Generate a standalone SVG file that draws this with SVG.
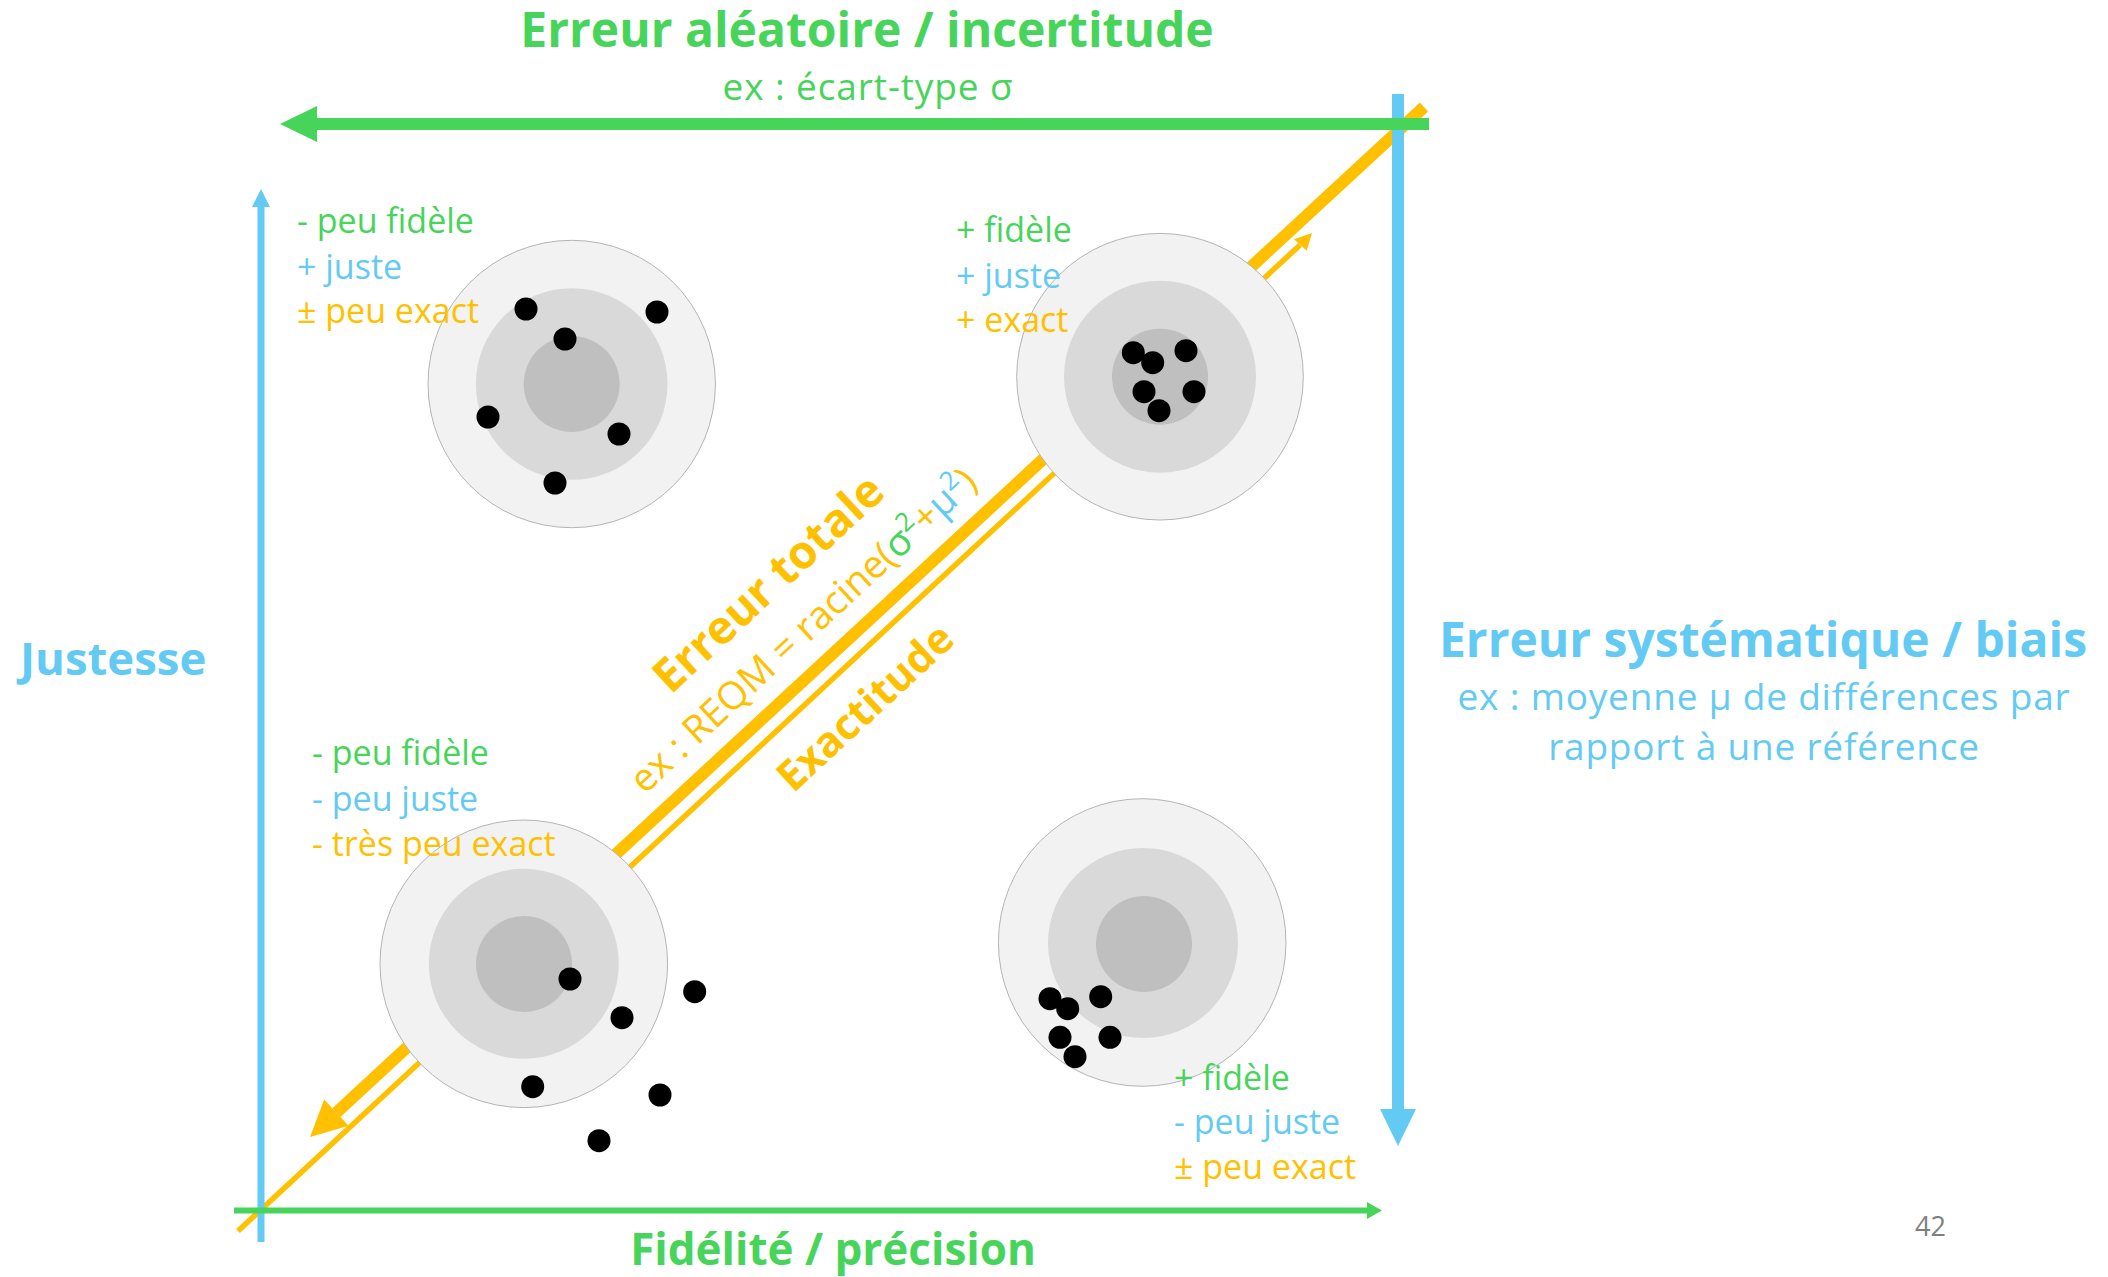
<svg xmlns="http://www.w3.org/2000/svg" width="2108" height="1277" viewBox="0 0 2108 1277">
<style>
text{font-family:"Open Sans","Liberation Sans",sans-serif}
.g{fill:#47D45A}.b{fill:#63CAF3}.y{fill:#FFC000}
.lbl{font-size:34px}
.h{font-weight:700}
.c1{fill:#F2F2F2;stroke:#B4B4B4;stroke-width:1}
.c2{fill:#D9D9D9}
.c3{fill:#BFBFBF}
.dot{fill:#000}
</style>
<rect width="2108" height="1277" fill="#fff"/>
<g id="connectors">
  <line x1="1424" y1="107" x2="336.4" y2="1112.6" stroke="#FFC000" stroke-width="12"/>
  <polygon points="310,1137 348.6,1125.8 324.2,1099.4" fill="#FFC000"/>
  <line x1="238" y1="1231" x2="1300" y2="245" stroke="#FFC000" stroke-width="5.5"/>
  <polygon points="1312,233 1306.7,250.7 1294,239.3" fill="#FFC000"/>
  <line x1="261" y1="1242" x2="261" y2="205" stroke="#63CAF3" stroke-width="7"/>
  <polygon points="261,189 270,207 252,207" fill="#63CAF3"/>
  <line x1="234" y1="1210.5" x2="1368" y2="1210.5" stroke="#47D45A" stroke-width="6"/>
  <polygon points="1382,1210.5 1367,1202 1367,1219" fill="#47D45A"/>
  <line x1="1398" y1="94" x2="1398" y2="1110" stroke="#63CAF3" stroke-width="12"/>
  <polygon points="1398,1146 1380,1109 1416,1109" fill="#63CAF3"/>
  <line x1="1429" y1="124" x2="315" y2="124" stroke="#47D45A" stroke-width="12"/>
  <polygon points="280,124 317,106 317,142" fill="#47D45A"/>
</g>
<g id="target-top-left">
  <circle class="c1" cx="571.7" cy="384" r="143.7"/>
  <circle class="c2" cx="571.7" cy="384" r="95.8"/>
  <circle class="c3" cx="571.7" cy="384" r="48"/>
  <circle class="dot" cx="526" cy="309" r="11.5"/>
  <circle class="dot" cx="657" cy="312" r="11.5"/>
  <circle class="dot" cx="565" cy="339" r="11.5"/>
  <circle class="dot" cx="488" cy="417" r="11.5"/>
  <circle class="dot" cx="619" cy="434" r="11.5"/>
  <circle class="dot" cx="555" cy="483" r="11.5"/>
</g>
<g id="target-top-right">
  <circle class="c1" cx="1160" cy="376.7" r="143.3"/>
  <circle class="c2" cx="1160" cy="376.7" r="96"/>
  <circle class="c3" cx="1160" cy="376.7" r="48"/>
  <circle class="dot" cx="1133.3" cy="352.7" r="11.5"/>
  <circle class="dot" cx="1152.7" cy="362.7" r="11.5"/>
  <circle class="dot" cx="1186" cy="350.7" r="11.5"/>
  <circle class="dot" cx="1144" cy="391.7" r="11.5"/>
  <circle class="dot" cx="1194" cy="391.7" r="11.5"/>
  <circle class="dot" cx="1159" cy="410.7" r="11.5"/>
</g>
<g id="target-bottom-left">
  <circle class="c1" cx="523.8" cy="963.8" r="143.8"/>
  <circle class="c2" cx="523.8" cy="963.8" r="95"/>
  <circle class="c3" cx="524" cy="964" r="48"/>
  <circle class="dot" cx="570" cy="979" r="11.5"/>
  <circle class="dot" cx="622" cy="1017.7" r="11.5"/>
  <circle class="dot" cx="694.7" cy="991.7" r="11.5"/>
  <circle class="dot" cx="532.7" cy="1086.7" r="11.5"/>
  <circle class="dot" cx="660" cy="1095" r="11.5"/>
  <circle class="dot" cx="599" cy="1140.7" r="11.5"/>
</g>
<g id="target-bottom-right">
  <circle class="c1" cx="1142.2" cy="942.5" r="143.8"/>
  <circle class="c2" cx="1143" cy="943" r="95"/>
  <circle class="c3" cx="1144" cy="944" r="48"/>
  <circle class="dot" cx="1050" cy="998.7" r="11.5"/>
  <circle class="dot" cx="1067.7" cy="1008.7" r="11.5"/>
  <circle class="dot" cx="1100.7" cy="996.7" r="11.5"/>
  <circle class="dot" cx="1060" cy="1037.3" r="11.5"/>
  <circle class="dot" cx="1110" cy="1037.3" r="11.5"/>
  <circle class="dot" cx="1075" cy="1056.7" r="11.5"/>
</g>
<g id="labels-top-left" class="lbl">
  <text class="g" x="297" y="233">- peu fidèle</text>
  <text class="b" x="297" y="279">+ juste</text>
  <text class="y" x="297" y="323">± peu exact</text>
</g>
<g id="labels-top-right" class="lbl">
  <text class="g" x="956" y="242">+ fidèle</text>
  <text class="b" x="956" y="288">+ juste</text>
  <text class="y" x="956" y="332">+ exact</text>
</g>
<g id="labels-bottom-left" class="lbl">
  <text class="g" x="312" y="765">- peu fidèle</text>
  <text class="b" x="312" y="811">- peu juste</text>
  <text class="y" x="312" y="856">- très peu exact</text>
</g>
<g id="labels-bottom-right" class="lbl">
  <text class="g" x="1174" y="1090">+ fidèle</text>
  <text class="b" x="1174" y="1134">- peu juste</text>
  <text class="y" x="1174" y="1179">± peu exact</text>
</g>
<g id="title-aleatoire">
  <text class="g h" x="867" y="47" font-size="48" text-anchor="middle">Erreur aléatoire / incertitude</text>
  <text class="g" x="868" y="100" font-size="37" letter-spacing="0.9" text-anchor="middle">ex : écart-type σ</text>
</g>
<g id="title-systematique">
  <text class="b h" x="1763" y="657" font-size="48" text-anchor="middle">Erreur systématique / biais</text>
  <text class="b" x="1764" y="710" font-size="37" letter-spacing="0.8" text-anchor="middle">ex : moyenne μ de différences par</text>
  <text class="b" x="1764" y="760" font-size="37" letter-spacing="0.8" text-anchor="middle">rapport à une référence</text>
</g>
<g id="title-justesse">
  <text class="b h" x="20" y="675" font-size="45.5">Justesse</text>
</g>
<g id="title-fidelite">
  <text class="g h" x="833" y="1265" font-size="44" text-anchor="middle">Fidélité / précision</text>
</g>
<g id="label-erreur-totale">
  <text class="y h" font-size="46" text-anchor="middle" transform="translate(779,595) rotate(-42.8)">Erreur totale</text>
  <text class="y" font-size="38.5" text-anchor="middle" transform="translate(812,640) rotate(-42.8)">ex : REQM = racine(<tspan class="g">σ</tspan><tspan class="g" font-size="26" dy="-15">2</tspan><tspan dy="15">+</tspan><tspan class="b">μ</tspan><tspan class="b" font-size="26" dy="-15">2</tspan><tspan dy="15">)</tspan></text>
</g>
<g id="label-exactitude">
  <text class="y h" font-size="42" text-anchor="middle" transform="translate(875,718) rotate(-42.8)">Exactitude</text>
</g>
<text x="1915" y="1236" font-size="27" fill="#7F7F7F">42</text>
</svg>
